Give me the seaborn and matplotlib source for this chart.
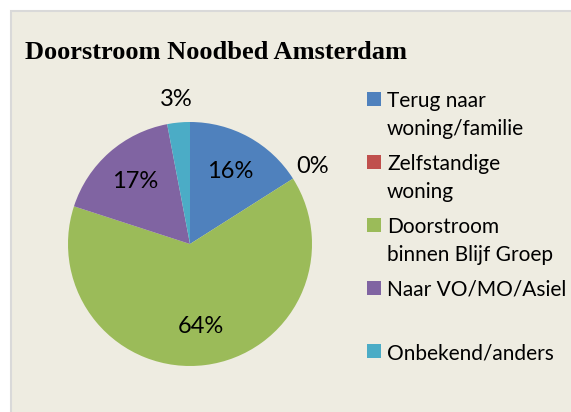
import matplotlib
matplotlib.use("Agg")
import matplotlib.pyplot as plt
from matplotlib.patches import Rectangle
import numpy as np
import seaborn as sns

categories = ["Terug naar\nwoning/familie", "Zelfstandige\nwoning",
              "Doorstroom\nbinnen Blijf Groep", "Naar VO/MO/Asiel", "Onbekend/anders"]
values = [16, 0, 64, 17, 3]
colors = ["#4F81BD", "#C0504D", "#9BBB59", "#8064A2", "#4BACC6"]
title = "Doorstroom Noodbed Amsterdam"

sns.set_theme(style="white")
plt.rcParams['font.family'] = ['Lato', 'DejaVu Sans']
palette = sns.color_palette(colors)

W, H = 571, 412
fig = plt.figure(figsize=(W / 100, H / 100), dpi=100)
fig.patch.set_facecolor("white")

# chart area frame
fig.patches.append(Rectangle((10.5 / W, -0.1), 1.2, (H - 10.5) / H + 0.1,
                             transform=fig.transFigure, facecolor="#EEECE1",
                             edgecolor="#D9D9D9", linewidth=1.5, zorder=-5))

fig.text(25 / W, 1 - 59 / H, title, fontfamily="Liberation Serif",
         fontweight="bold", fontsize=19, va="baseline", ha="left", color="black")

cx, cy, r = 190, 244, 122
ax = fig.add_axes([(cx - r) / W, (H - cy - r) / H, 2 * r / W, 2 * r / H])
ax.set_zorder(1)
ax.set_facecolor("none")
wedges, _ = ax.pie(values, colors=palette, startangle=90, counterclock=False,
                   radius=1, wedgeprops=dict(linewidth=0))
ax.set_xlim(-1, 1)
ax.set_ylim(-1, 1)
ax.set_aspect("equal")
ax.axis("off")

total = sum(values)
for w, v in zip(wedges, values):
    th = np.deg2rad((w.theta1 + w.theta2) / 2)
    d = 0.68 if v / total >= 0.05 else 1.19
    ax.text(d * np.cos(th), d * np.sin(th), f"{v / total * 100:.0f}%",
            ha="center", va="center", fontsize=17, color="black", clip_on=False)

# legend
for i, (lab, col) in enumerate(zip(categories, palette)):
    base = 107 + 63 * i
    fig.patches.append(Rectangle((367 / W, 1 - (base - 1) / H), 14 / W, 14 / H,
                                 transform=fig.transFigure, facecolor=col,
                                 edgecolor="none", zorder=2))
    for j, line in enumerate(lab.split("\n")):
        fig.text(387 / W, 1 - (base + 28 * j) / H, line, fontsize=15,
                 va="baseline", ha="left", color="black")

fig.savefig("out.png", dpi=100)
